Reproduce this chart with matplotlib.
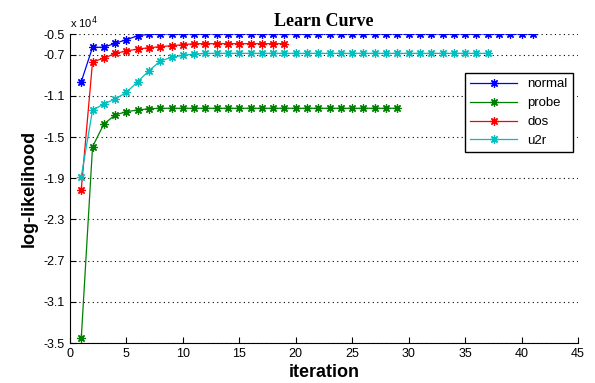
import matplotlib.pyplot as plt

# values in units of 1e4
normal = [-0.963, -0.629, -0.629, -0.590, -0.555, -0.517, -0.503] + [-0.500] * 34
probe = [-3.455, -1.594, -1.374, -1.286, -1.254, -1.238, -1.225] + [-1.221] * 22
dos = [-2.010, -0.769, -0.736, -0.688, -0.665, -0.646, -0.633, -0.623, -0.613, -0.604] + [-0.594] * 9
u2r = [-1.885, -1.238, -1.180, -1.131, -1.066, -0.963, -0.856, -0.762, -0.726, -0.707, -0.694] + [-0.688] * 26

series = [('normal', normal, '#0000ff'), ('probe', probe, '#008000'),
          ('dos', dos, '#ff0000'), ('u2r', u2r, '#00bfbf')]
yticks = [-3.5, -3.1, -2.7, -2.3, -1.9, -1.5, -1.1, -0.7, -0.5]

fig = plt.figure(figsize=(5.95, 3.83), dpi=100)
ax = fig.add_axes([0.1176, 0.1044, 0.8538, 0.8068])

for name, vals, col in series:
    x = range(1, len(vals) + 1)
    ax.plot(x, vals, color=col, lw=0.9, marker=(8, 2, 0), ms=6, mew=0.9, label=name)

ax.set_xlim(0, 45)
ax.set_ylim(-3.5, -0.5)
ax.set_xticks(range(0, 46, 5))
ax.set_yticks(yticks)
ax.set_yticklabels([('%g' % t) for t in yticks])
ax.tick_params(direction='in', labelsize=9, length=4, labelfontfamily='Liberation Sans')
ax.yaxis.grid(True, linestyle=(0, (1, 3)), color='black', lw=0.8)
ax.spines['top'].set_visible(False)
ax.spines['right'].set_visible(False)

ax.text(0.0, 1.01, r'x 10$^4$', transform=ax.transAxes, fontsize=8,
        family='Liberation Sans', va='bottom', ha='left')
ax.set_title('Learn Curve', family='Liberation Serif', fontweight='bold', fontsize=13, pad=6)
ax.set_xlabel('iteration', family='Liberation Sans', fontweight='bold', fontsize=13, labelpad=3)
ax.set_ylabel('log-likelihood', family='Liberation Sans', fontweight='bold', fontsize=13, labelpad=4)

leg = ax.legend(loc='upper left', bbox_to_anchor=(0.778, 0.874), fancybox=False,
                edgecolor='black', framealpha=1, handlelength=3.5,
                borderaxespad=0, prop={'family': 'Liberation Sans', 'size': 9.5})
leg.get_frame().set_linewidth(1)

fig.savefig('out.png', dpi=100)
